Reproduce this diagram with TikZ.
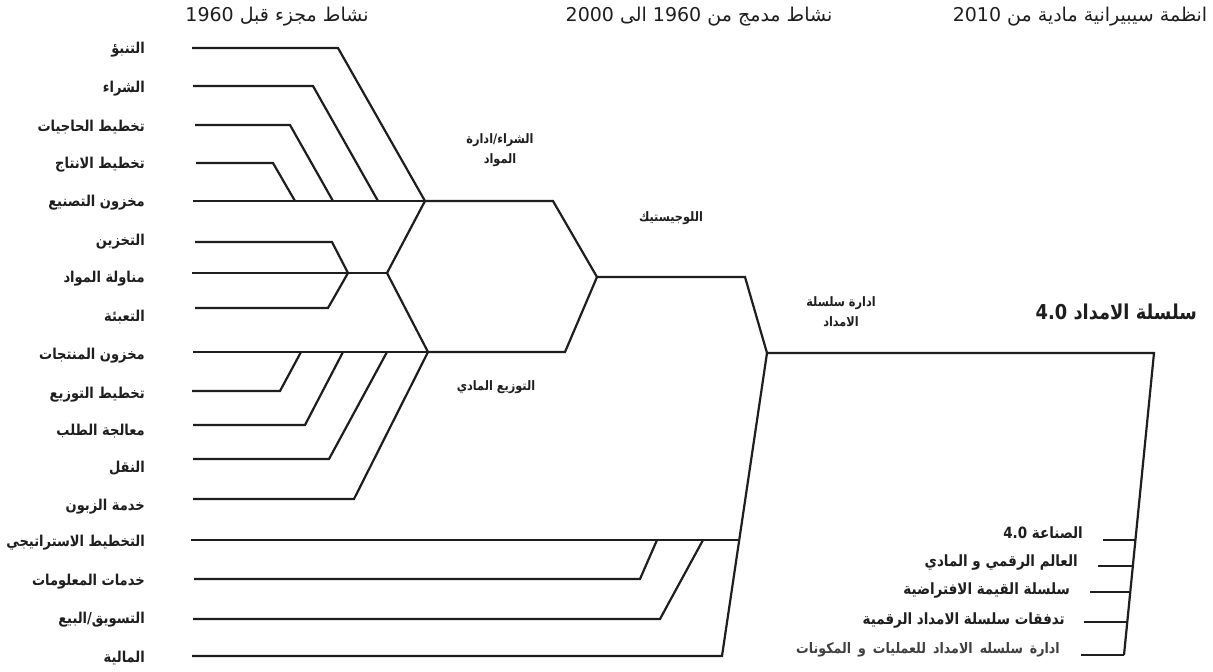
\documentclass[tikz,border=0pt]{standalone}
\usepackage{fontspec}
\TeXXeTstate=1
\newfontfamily\arfont[Script=Arabic]{DejaVu Sans}
\newfontfamily\arnarrow[Script=Arabic,FakeStretch=0.87]{DejaVu Sans}
\newcommand\AR[1]{\beginR#1\endR}
\newcommand\LR[1]{\beginL#1\endL{}}
\newcommand\widespaces{\spaceskip=7pt\relax}
\definecolor{ink}{HTML}{1E1E1E}
\begin{document}
\begin{tikzpicture}[x=1pt,y=-1pt,
  wire/.style={draw=ink,line width=2.2pt,line join=miter},
  lab/.style={font=\arnarrow\bfseries\fontsize{15}{17}\selectfont,text=ink,inner sep=0pt,anchor=east},
  mid/.style={font=\arnarrow\bfseries\fontsize{13}{15}\selectfont,text=ink,inner sep=0pt,align=center},
  head/.style={font=\arfont\fontsize{19}{22}\selectfont,text=ink,inner sep=0pt},
  big/.style={font=\arnarrow\bfseries\fontsize{20.5}{24}\selectfont,text=ink,inner sep=0pt,anchor=east},
  rlab/.style={font=\arnarrow\bfseries\fontsize{15.5}{18}\selectfont,text=ink,inner sep=0pt,anchor=east},
  rsmall/.style={font=\arnarrow\bfseries\fontsize{14.5}{17}\selectfont,text=ink!85,inner sep=0pt,anchor=east}]
\useasboundingbox[fill=white] (0,0) rectangle (1213,672);

% column headings
\node[head] (h1) at (277,17) {\AR{نشاط مجزء قبل \LR{1960}}};
\node[head] (h2) at (699,17) {\AR{نشاط مدمج من \LR{1960} الى \LR{2000}}};
\node[head] (h3) at (1080,17) {\AR{انظمة سيبيرانية مادية من \LR{2010}}};

% activity labels on the left
\node[lab] (l1)  at (145,50)  {\AR{التنبؤ}};
\node[lab] (l2)  at (145,89)  {\AR{الشراء}};
\node[lab] (l3)  at (145,127) {\AR{تخطيط الحاجيات}};
\node[lab] (l4)  at (145,165) {\AR{تخطيط الانتاج}};
\node[lab] (l5)  at (145,203) {\AR{مخزون التصنيع}};
\node[lab] (l6)  at (145,242) {\AR{التخزين}};
\node[lab] (l7)  at (145,279) {\AR{مناولة المواد}};
\node[lab] (l8)  at (145,317) {\AR{التعبئة}};
\node[lab] (l9)  at (145,356) {\AR{مخزون المنتجات}};
\node[lab] (l10) at (145,395) {\AR{تخطيط التوزيع}};
\node[lab] (l11) at (145,431) {\AR{معالجة الطلب}};
\node[lab] (l12) at (145,468) {\AR{النقل}};
\node[lab] (l13) at (145,507) {\AR{خدمة الزبون}};
\node[lab] (l14) at (145,543) {\AR{التخطيط الاستراتيجي}};
\node[lab] (l15) at (145,582) {\AR{خدمات المعلومات}};
\node[lab] (l16) at (145,620) {\AR{التسويق/البيع}};
\node[lab] (l17) at (145,658) {\AR{المالية}};

% stage labels
\node[mid] (m1) at (500,150) {\AR{الشراء/ادارة}\\[5pt]\AR{المواد}};
\node[mid] (m2) at (671,218) {\AR{اللوجيستيك}};
\node[mid] (m3) at (496,387) {\AR{التوزيع المادي}};
\node[mid] (m4) at (841,312) {\AR{ادارة سلسلة}\\[5pt]\AR{الامداد}};
\node[big] (sc) at (1197,312) {\AR{سلسلة الامداد \LR{4.0}}};

% digital supply chain labels
\node[rlab]   (d1) at (1083,533) {\AR{الصناعة \LR{4.0}}};
\node[rlab]   (d2) at (1078,562) {\AR{العالم الرقمي و المادي}};
\node[rlab]   (d3) at (1070,590) {\AR{سلسلة القيمة الافتراضية}};
\node[rlab]   (d4) at (1065,620) {\AR{تدفقات سلسلة الامداد الرقمية}};
\node[rsmall] (d5) at (1060,650) {\widespaces\AR{ادارة سلسله الامداد للعمليات و المكونات}};

% junctions
\coordinate (A) at (425,201);
\coordinate (B) at (387,273);
\coordinate (Bs) at (348,273);
\coordinate (C) at (428,352);
\coordinate (D) at (597,277);
\coordinate (E) at (767,353);
\coordinate (Rt) at (1154,353);
\coordinate (Rb) at (1124,655);
\coordinate (Eb) at (722,656);

% line starts and bends of each activity
\coordinate (s1) at (192,48);   \coordinate (k1) at (338,48);
\coordinate (s2) at (193,86);   \coordinate (k2) at (313,86);   \coordinate (j2) at (378,201);
\coordinate (s3) at (195,125);  \coordinate (k3) at (290,125);  \coordinate (j3) at (333,201);
\coordinate (s4) at (196,163);  \coordinate (k4) at (273,163);  \coordinate (j4) at (295,201);
\coordinate (s5) at (193,201);
\coordinate (s6) at (195,242);  \coordinate (k6) at (332,242);
\coordinate (s7) at (192,273);
\coordinate (s8) at (195,308);  \coordinate (k8) at (328,308);
\coordinate (s9) at (193,352);
\coordinate (s10) at (192,391); \coordinate (k10) at (280,391); \coordinate (j10) at (301,352);
\coordinate (s11) at (193,425); \coordinate (k11) at (305,425); \coordinate (j11) at (343,352);
\coordinate (s12) at (193,459); \coordinate (k12) at (329,459); \coordinate (j12) at (387,352);
\coordinate (s13) at (193,499); \coordinate (k13) at (354,499);
\coordinate (s14) at (191,540); \coordinate (j14) at (738,540);
\coordinate (s15) at (194,579); \coordinate (k15) at (640,579); \coordinate (j15) at (657,540);
\coordinate (s16) at (193,619); \coordinate (k16) at (660,619); \coordinate (j16) at (703,540);
\coordinate (s17) at (192,656);

% stage bends
\coordinate (a1) at (553,201);
\coordinate (c1) at (565,352);
\coordinate (d1b) at (745,277);

% right ticks
\coordinate (t1) at (1103,540);  \coordinate (u1) at (1135.4,540);
\coordinate (t2) at (1098,566);  \coordinate (u2) at (1132.8,566);
\coordinate (t3) at (1090,592);  \coordinate (u3) at (1130.2,592);
\coordinate (t4) at (1084,622);  \coordinate (u4) at (1127.2,622);
\coordinate (t5) at (1081,655);  \coordinate (u5) at (1124,655);

% purchasing / materials group
\draw[wire] (s1) -- (k1) -- (A);
\draw[wire] (s2) -- (k2) -- (j2);
\draw[wire] (s3) -- (k3) -- (j3);
\draw[wire] (s4) -- (k4) -- (j4);
\draw[wire] (s5) -- (A);
% storage group
\draw[wire] (s6) -- (k6) -- (Bs);
\draw[wire] (s7) -- (B);
\draw[wire] (s8) -- (k8) -- (Bs);
\draw[wire] (A) -- (B) -- (C);
% distribution group
\draw[wire] (s9) -- (C);
\draw[wire] (s10) -- (k10) -- (j10);
\draw[wire] (s11) -- (k11) -- (j11);
\draw[wire] (s12) -- (k12) -- (j12);
\draw[wire] (s13) -- (k13) -- (C);
% logistics
\draw[wire] (A) -- (a1) -- (D);
\draw[wire] (C) -- (c1) -- (D);
\draw[wire] (D) -- (d1b) -- (E);
% supply chain management
\draw[wire] (s14) -- (j14);
\draw[wire] (s15) -- (k15) -- (j15);
\draw[wire] (s16) -- (k16) -- (j16);
\draw[wire] (s17) -- (Eb) -- (E);
% supply chain 4.0
\draw[wire] (E) -- (Rt) -- (Rb);
\draw[wire] (t1) -- (u1);
\draw[wire] (t2) -- (u2);
\draw[wire] (t3) -- (u3);
\draw[wire] (t4) -- (u4);
\draw[wire] (t5) -- (u5);
\end{tikzpicture}
\end{document}
